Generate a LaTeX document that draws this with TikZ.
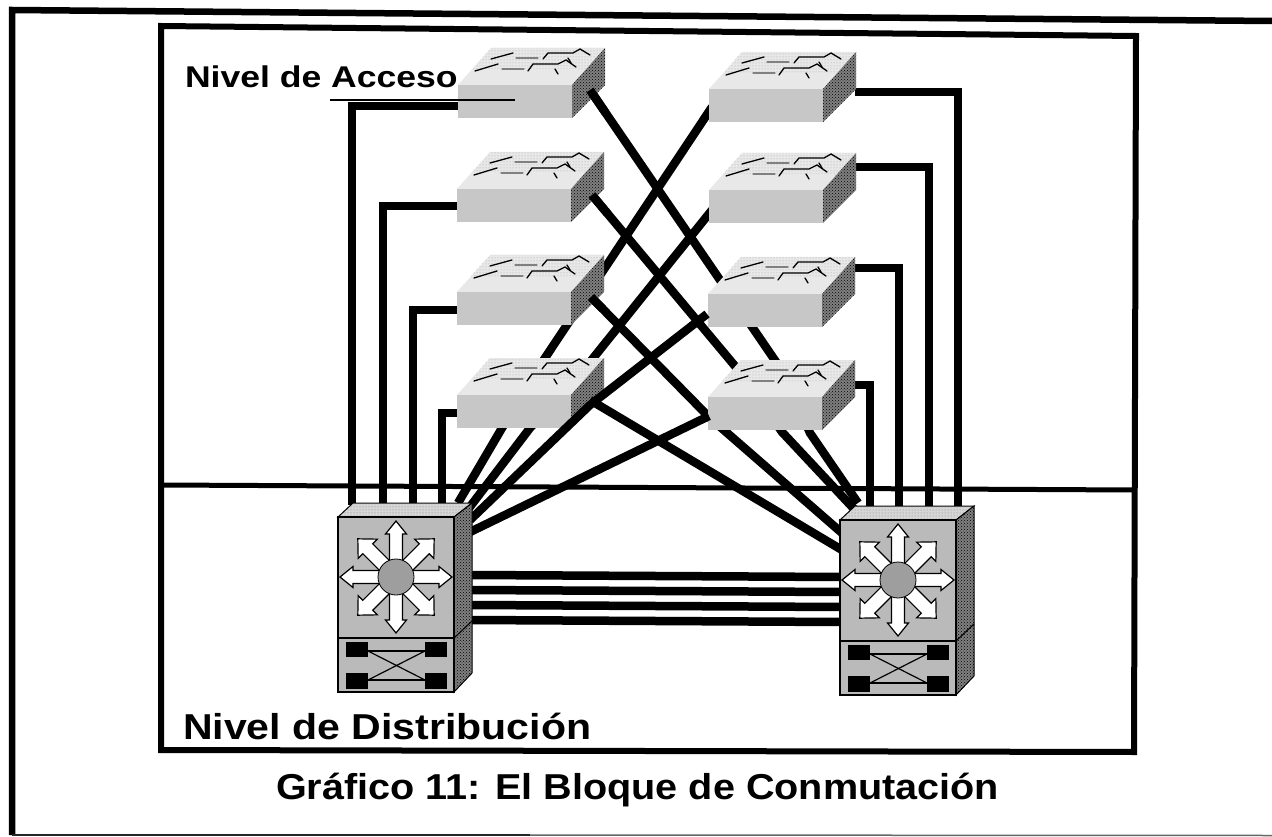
\documentclass[tikz,border=0pt]{standalone}
\usepackage{fontspec}
\setmainfont{Liberation Sans}
\usetikzlibrary{calc,patterns}
\definecolor{swfront}{gray}{0.78}
\definecolor{swtop}{gray}{0.91}
\definecolor{swside}{gray}{0.50}
\definecolor{dsfront}{gray}{0.73}
\definecolor{dstop}{gray}{0.84}
\definecolor{hub}{gray}{0.62}
\tikzset{
  x=1pt,y=-1pt,
  cable/.style={draw=black,line width=8.5pt,line join=miter},
  glyph/.style={draw=black,line width=1.3pt,line cap=round},
  swbox/.style={draw=none,fill=swfront,minimum width=114pt,minimum height=33pt,inner sep=0pt,outer sep=0pt,anchor=north west},
  dsbox/.style={draw=black,line width=1.8pt,fill=dsfront,minimum width=116pt,minimum height=121pt,inner sep=0pt,outer sep=0pt,anchor=north west},
  lab/.style={inner sep=0pt,outer sep=0pt,anchor=base west},
  arrowface/.style={fill=white,draw=black,line width=1.2pt,line join=miter}
}
% #1 name, #2 x of front left, #3 y of front top
\newcommand{\accessswitch}[3]{%
  \begin{scope}[shift={(#2,#3)}]
    \fill[swtop] (0,0) -- (33,-37) -- (147,-37) -- (114,0) -- cycle;
    \fill[pattern=dots,pattern color=gray!70] (14,-16) -- (33,-37) -- (147,-37) -- (128,-16) -- cycle;
    \fill[swside] (114,0) -- (147,-37) -- (147,0) -- (114,33) -- cycle;
    \fill[pattern=crosshatch dots,pattern color=black] (114,0) -- (147,-37) -- (147,0) -- (114,33) -- cycle;
    \node[swbox] (#1) at (0,0) {};
    \draw[glyph] (33,-26) -- (55,-32);
    \draw[glyph,gray] (58,-27) -- (80,-27);
    \draw[glyph] (85,-26) -- (90,-32) -- (115,-32) -- (122,-36) -- (132,-30);
    \draw[glyph] (110,-27) -- (113,-22);
    \draw[glyph] (17,-14) -- (40,-21);
    \draw[glyph,gray] (44,-16) -- (66,-16);
    \draw[glyph] (70,-14) -- (75,-21) -- (100,-21) -- (108,-25) -- (118,-18);
    \draw[glyph] (97,-16) -- (100,-11);
  \end{scope}}
% #1 name, #2 x, #3 y of front top
\newcommand{\distswitch}[3]{%
  \begin{scope}[shift={(#2,#3)}]
    \fill[dstop,draw=black,line width=1pt] (0,0) -- (15,-14) -- (134,-14) -- (116,0) -- cycle;
    \fill[pattern=dots,pattern color=gray] (0,0) -- (15,-14) -- (134,-14) -- (116,0) -- cycle;
    \fill[swside,draw=black,line width=1pt] (116,0) -- (134,-14) -- (134,156) -- (116,175) -- cycle;
    \fill[pattern=crosshatch dots,pattern color=black] (116,0) -- (134,-14) -- (134,156) -- (116,175) -- cycle;
    \draw[black,line width=1pt] (116,121) -- (134,104);
    \node[dsbox] (#1) at (0,0) {};
    \fill[dsfront,draw=black,line width=1.8pt] (0,121) rectangle (116,175);
    \foreach \a in {0,90,180,270}{
      \begin{scope}[shift={(58,60)},rotate=\a]
        \draw[arrowface] (14,-6.5) -- (43,-6.5) -- (43,-10.5) -- (56,0) -- (43,10.5) -- (43,6.5) -- (14,6.5) -- cycle;
      \end{scope}}
    \foreach \a in {45,135,225,315}{
      \begin{scope}[shift={(58,60)},rotate=\a]
        \draw[arrowface] (14,-7) -- (40,-7) -- (40,-13.5) -- (54,0) -- (40,13.5) -- (40,7) -- (14,7) -- cycle;
      \end{scope}}
    \fill[hub,draw=black,line width=.8pt] (58,60) circle (18);
    \fill[black] (8,125) rectangle (30,140);
    \fill[black] (8,156) rectangle (30,172);
    \fill[black] (87,125) rectangle (109,140);
    \fill[black] (87,156) rectangle (109,172);
    \draw[black,line width=1.2pt] (30,134) -- (87,134);
    \draw[black,line width=1.2pt] (30,163) -- (87,163);
    \draw[black,line width=1.2pt] (30,134) -- (87,163);
    \draw[black,line width=1.2pt] (30,163) -- (87,134);
  \end{scope}}
\begin{document}
\begin{tikzpicture}
\useasboundingbox (0,0) rectangle (1272,837);
\fill[white] (0,0) rectangle (1272,837);
% frames
\coordinate (ol) at (12,10);
\coordinate (or) at (1272,21);
\coordinate (obl) at (12,835);
\coordinate (obm) at (530,835);
\coordinate (obr) at (1272,835.5);
\draw[draw=black,line width=6.5pt] (or) -- (ol) -- (obl);
\draw[draw=black!85,line width=2pt] (obl) -- (obm);
\draw[draw=black!60,line width=1.5pt] (obm) -- (obr);
\coordinate (a) at (161,26);
\coordinate (b) at (1136,36);
\coordinate (c) at (1134,752);
\coordinate (d) at (161,750);
\draw[draw=black,line width=6pt,line join=miter] (a) -- (b) -- (c) -- (d) -- cycle;
\coordinate (ml) at (161,485);
\coordinate (mr) at (1135,490);
\draw[draw=black,line width=5pt] (ml) -- (mr);
% cable ends
\foreach \n/\x/\y in {
  p1/352/505,p2/383/505,p3/413/505,p4/442/505,
  q1/958/507,q2/929/507,q3/899/507,q4/870/507,
  l1/459/106,l2/458/206,l3/458/310,l4/457/413,
  r1/855/92,r2/855/167,r3/855/268,r4/854/385,
  k1/352/106,k2/383/206,k3/413/310,k4/442/413,
  n1/958/92,n2/929/167,n3/899/268,n4/870/385,
  a1/590/90,a1x/785/375,a1y/810/433,c1/858/503,
  a2/592/195,a2x/745/378,a2y/782/432,c2/855/510,
  a3/591/297,a3x/710/418,c3/842/533,
  a4/590/400,c4/842/550,
  b1/712/107,b1x/535/373,b1z/502/428,d1/458/503,
  b2/712/210,b2x/578/377,b2y/530/428,d2/466/512,
  b3/707/314,b3x/590/405,d3/470/520,
  b4/709/416,d4/470/532,
  h1/470/575,h2/470/590,h3/470/605,h4/470/620,
  e1/842/577,e2/842/592,e3/842/607,e4/842/622}
  {\coordinate (\n) at (\x,\y);}
% cables behind switches
\draw[cable] (l1) -- (k1) -- (p1);
\draw[cable] (l2) -- (k2) -- (p2);
\draw[cable] (l3) -- (k3) -- (p3);
\draw[cable] (l4) -- (k4) -- (p4);
\draw[cable] (r1) -- (n1) -- (q1);
\draw[cable] (r2) -- (n2) -- (q2);
\draw[cable] (r3) -- (n3) -- (q3);
\draw[cable] (r4) -- (n4) -- (q4);
\draw[cable] (a1) -- (a1x) -- (a1y) -- (c1);
\draw[cable] (a2) -- (a2x) -- (a2y) -- (c2);
\draw[cable] (a3) -- (a3x) -- (c3);
\draw[cable] (b1) -- (b1x) -- (b1z) -- (d1);
\draw[cable] (b2) -- (b2x) -- (b2y) -- (d2);
\foreach \i in {1,2,3,4}{\draw[cable] (h\i) -- (e\i);}
% switches
\accessswitch{sL1}{458}{85}
\accessswitch{sL2}{457}{189}
\accessswitch{sL3}{457}{292}
\accessswitch{sL4}{457}{395}
\accessswitch{sR1}{709}{89}
\accessswitch{sR2}{709}{190}
\accessswitch{sR3}{708}{294}
\accessswitch{sR4}{708}{397}
% cables that lie on top of switches
\draw[cable] (a1) -- ($(a1)!.08!(a1x)$);
\draw[cable] (a2) -- ($(a2)!.1!(a2x)$);
\draw[cable] (a3) -- ($(a3)!.1!(a3x)$);
\draw[cable] (a4) -- (c4);
\draw[cable] (b3) -- (b3x) -- (d3);
\draw[cable] (b4) -- (d4);
\distswitch{dL}{338}{517}
\distswitch{dR}{840}{520}
% texts
\node[lab,font=\bfseries\fontsize{30}{33}\selectfont] (t1) at (185,88) {\scalebox{1.185}[1]{Nivel de Acceso}};
\coordinate (u1) at (330,100);
\coordinate (u2) at (515,100);
\draw[black,line width=2.5pt] (u1) -- (u2);
\node[lab,font=\bfseries\fontsize{36}{40}\selectfont] (t2) at (183,739) {\scalebox{1.14}[1]{Nivel de Distribución}};
\node[lab,font=\bfseries\fontsize{36}{40}\selectfont] (t3) at (276,799) {\scalebox{1.10}[1]{Gráfico 11: El Bloque de Conmutación}};
\end{tikzpicture}
\end{document}
